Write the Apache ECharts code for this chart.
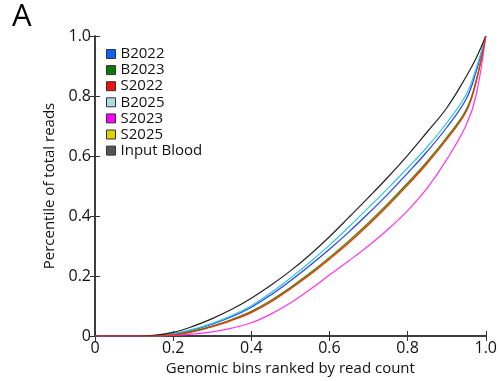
<!DOCTYPE html>
<html>
<head>
<meta charset="utf-8">
<script src="https://cdn.jsdelivr.net/npm/echarts@6/dist/echarts.min.js"></script>
<style>html,body{margin:0;padding:0;background:#fff}#c{width:500px;height:381px}</style>
</head>
<body>
<div id="c"></div>
<script>
var xs = [0,0.05,0.1,0.15,0.2,0.25,0.3,0.35,0.4,0.45,0.5,0.55,0.6,0.65,0.7,0.75,0.8,0.85,0.9,0.95,0.975,1.0];
var B2022 = [0,0,0,0.001,0.007,0.02,0.039,0.064,0.096,0.137,0.184,0.235,0.289,0.347,0.409,0.474,0.543,0.615,0.695,0.79,0.88,1.0];
var B2023 = [0,0,0,0,0.005,0.016,0.033,0.055,0.082,0.118,0.162,0.21,0.262,0.318,0.378,0.442,0.51,0.582,0.662,0.755,0.85,1.0];
var S2022 = [0,0,0,0,0.004,0.014,0.031,0.052,0.078,0.113,0.157,0.204,0.256,0.311,0.371,0.435,0.503,0.575,0.655,0.748,0.845,1.0];
var B2025 = [0,0,0,0.001,0.008,0.022,0.042,0.068,0.101,0.144,0.193,0.246,0.303,0.364,0.428,0.493,0.56,0.63,0.71,0.805,0.89,1.0];
var S2023 = [0,0,0,0,0.002,0.006,0.014,0.026,0.044,0.073,0.11,0.155,0.203,0.251,0.301,0.356,0.418,0.493,0.588,0.703,0.8,1.0];
var S2025 = [0,0,0,0,0.004,0.015,0.032,0.053,0.08,0.115,0.159,0.207,0.259,0.314,0.374,0.438,0.506,0.578,0.658,0.751,0.847,1.0];
var InputBlood = [0,0,0,0.002,0.012,0.032,0.058,0.089,0.126,0.169,0.217,0.271,0.331,0.396,0.462,0.53,0.602,0.68,0.76,0.865,0.925,1.0];

var names = ['B2022','B2023','S2022','B2025','S2023','S2025','Input Blood'];
var values = [B2022,B2023,S2022,B2025,S2023,S2025,InputBlood];
var legendColors = ['#0a64f0','#0a7a0a','#ee1111','#a9dde8','#ff00ff','#e0d000','#555555'];
var lineColors = ['#2040ff','#2e8b22','#ff2a00','#2cc8d8','#ff33ee','#d0b000','#222222'];
var zs = [3,3,4,3,3,2,3];

var font = 'Open Sans';
function fmt(v){ return v === 0 ? '0' : v.toFixed(1); }

var series = names.map(function(n,i){
  return {
    name: n, type: 'line', showSymbol: false, symbol: 'none', smooth: 0.4, z: zs[i],
    data: xs.map(function(x,j){ return [x, values[i][j]]; }),
    itemStyle: { color: legendColors[i] },
    lineStyle: { color: lineColors[i], width: 1.2 },
    xAxisIndex: 0, yAxisIndex: 0
  };
});

var axisLine = { show: true, lineStyle: { color: '#333', width: 1.5 } };
var chart = echarts.init(document.getElementById('c'), null, {renderer:'canvas'});
chart.setOption({
  animation: false,
  textStyle: { fontFamily: font },
  grid: { left: 95, right: 14, top: 36, bottom: 45 },
  graphic: [{ type: 'text', left: 12, top: 2, style: { text: 'A', font: '31px "Open Sans"', fill: '#000' } }],
  legend: {
    orient: 'vertical', left: 101, top: 41, itemWidth: 9, itemHeight: 9, itemGap: 0.1,
    icon: 'rect',
    itemStyle: { borderColor: '#333', borderWidth: 1 },
    textStyle: { fontFamily: font, fontSize: 15, color: '#111', lineHeight: 16 },
    data: names
  },
  xAxis: [{
    type: 'value', min: 0, max: 1, interval: 0.2, position: 'bottom',
    name: 'Genomic bins ranked by read count', nameLocation: 'middle', nameGap: 22,
    nameTextStyle: { fontFamily: font, fontSize: 15, color: '#111' },
    axisLine: axisLine, splitLine: { show: false },
    axisTick: { inside: true, length: 5, lineStyle: { color: '#333' } },
    axisLabel: { formatter: fmt, fontFamily: font, fontSize: 16, color: '#111', margin: 4 }
  },{
    type: 'value', min: 0, max: 1, interval: 0.2, position: 'top',
    axisLine: axisLine, splitLine: { show: false },
    axisTick: { inside: true, length: 5, lineStyle: { color: '#333' } },
    axisLabel: { show: false }
  }],
  yAxis: [{
    type: 'value', min: 0, max: 1, interval: 0.2, position: 'left',
    name: 'Percentile of total reads', nameLocation: 'middle', nameGap: 37,
    nameTextStyle: { fontFamily: font, fontSize: 15, color: '#111' },
    axisLine: axisLine, splitLine: { show: false },
    axisTick: { inside: true, length: 5, lineStyle: { color: '#333' } },
    axisLabel: { formatter: fmt, fontFamily: font, fontSize: 16, color: '#111', margin: 4 }
  },{
    type: 'value', min: 0, max: 1, interval: 0.2, position: 'right',
    axisLine: axisLine, splitLine: { show: false },
    axisTick: { inside: true, length: 5, lineStyle: { color: '#333' } },
    axisLabel: { show: false }
  }],
  series: series
});
</script>
</body>
</html>
